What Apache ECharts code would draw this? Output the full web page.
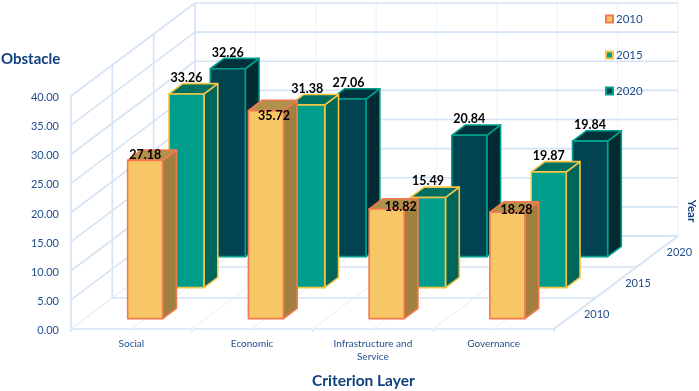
<!DOCTYPE html>
<html><head><meta charset="utf-8">
<style>html,body{margin:0;padding:0;background:#fff}#c{width:699px;height:391px}</style>
<script src="https://cdn.jsdelivr.net/npm/echarts@6/dist/echarts.min.js"></script>
</head><body><div id="c"></div>
<script>
const categories = ['Social', 'Economic', 'Infrastructure and\nService', 'Governance'];
const years = ['2010', '2015', '2020'];
const values2010 = [27.18, 35.72, 18.82, 18.28];
const values2015 = [33.26, 31.38, 15.49, 19.87];
const values2020 = [32.26, 27.06, 20.84, 19.84];
const valueTicks = [0, 5, 10, 15, 20, 25, 30, 35, 40];

const seriesValues = [values2010, values2015, values2020];
const palette = [
  { front: '#F8C765', side: '#A1803F', top: '#B1904C', edge: '#F4794F' },
  { front: '#009E8A', side: '#00665A', top: '#006F62', edge: '#F5C545' },
  { front: '#014350', side: '#012A33', top: '#01313A', edge: '#00A08C' }
];
const DX = 41.33, DY = 31, BAND = 3;   // depth of one year band on the page
const BAR_W = 0.29;                    // bar width as share of a category
const BLUE = '#1F4E8C', NAVY = '#0F3F7F', LINE = '#D5E4F5', FAINT = '#EDF4FB';
// hand-placed label offsets of the front (2010) row in the original [dx, dy]
const frontLabelShift = [[0, 11], [8, 21], [14, 14], [9, 14]];

function projector(api) {
  const w = api.size([1, 0])[0];
  return function (cat, val, depth) {
    const p = api.coord([0, val]);
    return [p[0] - w / 2 + cat * w + depth * DX, p[1] - depth * DY];
  };
}
function line(a, b, color, width) {
  return { type: 'line', silent: true,
    shape: { x1: a[0], y1: a[1], x2: b[0], y2: b[1] },
    style: { stroke: color, lineWidth: width, fill: null } };
}
function renderWall(params, api) {
  const P = projector(api), v = api.value(1), kids = [];
  const n = categories.length;
  kids.push(line(P(0, v, 0), P(0, v, BAND), v === 0 ? FAINT : LINE, 1.6));
  kids.push(line(P(0, v, BAND), P(n, v, BAND), LINE, 1.6));
  if (params.dataIndex === 0) {
    const top = valueTicks[valueTicks.length - 1];
    for (let h = 0; h <= n * 2; h++) {
      kids.push(line(P(h / 2, 0, 0), P(h / 2, 0, BAND), FAINT, 1.2));
      kids.push(line(P(h / 2, 0, BAND), P(h / 2, top, BAND), FAINT, 1.2));
    }
    for (let d = 1; d <= BAND; d++) {
      kids.push(line(P(0, 0, d), P(0, top, d), LINE, 1.6));
      kids.push(line(P(0, 0, d), P(n, 0, d), LINE, 1.6));
    }
    kids.push(line(P(n, 0, 0), P(n, 0, BAND), LINE, 1.6));
    years.forEach(function (y, i) {
      const q = P(n, 0, i + 0.5);
      kids.push({ type: 'text', silent: true, style: { x: q[0] + 22, y: q[1] + 0.5, text: y,
        fill: BLUE, font: '11px Lato', align: 'center', verticalAlign: 'middle' } });
    });
  }
  return { type: 'group', children: kids };
}
function makeBarRenderer(d) {
  return function (params, api) {
    const P = projector(api), c = api.value(0), v = api.value(1), col = palette[d];
    const c0 = c + 0.5 - BAR_W / 2, c1 = c + 0.5 + BAR_W / 2;
    const z0 = d + 1 / 3, z1 = d + 2 / 3;
    const st = function (fill) { return { fill: fill, stroke: col.edge, lineWidth: 1.6, lineJoin: 'round' }; };
    const poly = function (pts, fill) { return { type: 'polygon', shape: { points: pts }, style: st(fill) }; };
    return { type: 'group', children: [
      poly([P(c1, 0, z0), P(c1, 0, z1), P(c1, v, z1), P(c1, v, z0)], col.side),
      poly([P(c0, v, z0), P(c1, v, z0), P(c1, v, z1), P(c0, v, z1)], col.top),
      poly([P(c0, 0, z0), P(c1, 0, z0), P(c1, v, z0), P(c0, v, z0)], col.front)
    ] };
  };
}
function renderLabel(params, api) {
  const P = projector(api), c = api.value(0), v = api.value(1), d = api.value(2);
  const q = P(c + 0.5, v, d + 1 / 3);
  const s = d === 0 ? frontLabelShift[c] : [0, 0];
  return { type: 'text', silent: true, style: {
    x: q[0] + s[0], y: q[1] - 16 + s[1], text: v.toFixed(2), fill: '#000',
    font: 'bold 12.5px Lato', align: 'center', verticalAlign: 'middle' } };
}
const labelData = [];
seriesValues.forEach(function (vals, d) {
  vals.forEach(function (v, c) { labelData.push([c, v, d]); });
});
const series = [
  { type: 'custom', name: 'walls', z: 1, silent: true, renderItem: renderWall,
    data: valueTicks.map(function (t) { return [0, t]; }), encode: { x: 0, y: 1 } }
];
years.forEach(function (y, d) {
  series.push({ type: 'custom', name: y, z: 5 - d, silent: true, renderItem: makeBarRenderer(d),
    itemStyle: { color: palette[d].front, borderColor: palette[d].edge, borderWidth: 2 },
    data: seriesValues[d].map(function (v, c) { return [c, v]; }), encode: { x: 0, y: 1 } });
});
series.push({ type: 'custom', name: 'labels', z: 10, silent: true, renderItem: renderLabel,
  data: labelData, encode: { x: 0, y: 1 } });

const chart = echarts.init(document.getElementById('c'), null, { renderer: 'canvas' });
chart.setOption({
  animation: false,
  backgroundColor: '#fff',
  textStyle: { fontFamily: 'Lato' },
  grid: { left: 71, right: 145, top: 96, bottom: 62, containLabel: false },
  legend: {
    orient: 'vertical', left: 605, top: 13, itemWidth: 7, itemHeight: 7, itemGap: 24, padding: 0,
    textStyle: { color: BLUE, fontSize: 11.5, fontFamily: 'Lato', padding: [0, 0, 0, -2] },
    data: years.map(function (y, d) {
      return { name: y, icon: 'rect',
        itemStyle: { color: palette[d].front, borderColor: palette[d].edge, borderWidth: 2 } };
    })
  },
  xAxis: {
    type: 'category', data: categories, boundaryGap: true,
    axisLine: { lineStyle: { color: LINE, width: 1.6 } },
    axisTick: { show: true, length: 3, lineStyle: { color: LINE, width: 1.5 } },
    axisLabel: { color: BLUE, fontSize: 10, margin: 8, lineHeight: 13, interval: 0, fontFamily: 'Lato' },
    splitLine: { show: false }
  },
  yAxis: {
    type: 'value', min: 0, max: 40, interval: 5,
    axisLine: { show: true, lineStyle: { color: LINE, width: 1.6 } },
    axisTick: { show: false }, splitLine: { show: false },
    axisLabel: { color: BLUE, fontSize: 11, margin: 12, fontFamily: 'Lato', verticalAlign: 'top', padding: [-4, 0, 0, 0],
      formatter: function (v) { return v.toFixed(2); } }
  },
  graphic: [
    { type: 'text', left: 1, top: 52, style: { text: 'Obstacle', fill: NAVY, font: 'bold 15px Lato' } },
    { type: 'text', left: 312, top: 373, style: { text: 'Criterion Layer', fill: NAVY, font: 'bold 15.5px Lato' } },
    { type: 'text', x: 692, y: 211, rotation: -Math.PI / 2,
      style: { text: 'Year', fill: NAVY, font: 'bold 11.5px Lato', align: 'center', verticalAlign: 'middle' } }
  ],
  series: series
});
</script></body></html>
